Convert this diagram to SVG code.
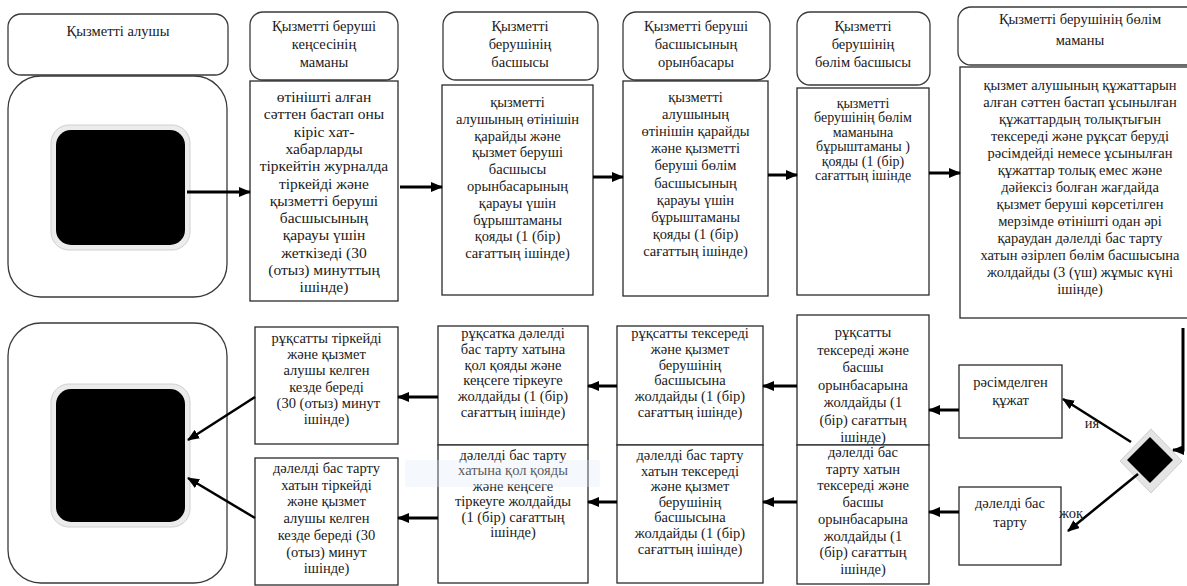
<svg xmlns="http://www.w3.org/2000/svg" width="1187" height="586" viewBox="0 0 1187 586">
  <style>
    .hdr { fill: #ffffff; stroke: #3a3a3a; stroke-width: 1.3; }
    .box { fill: #ffffff; stroke: #2a2a2a; stroke-width: 1.3; }
    .lbl { font-family: "Liberation Serif", "DejaVu Serif", "Times New Roman", serif; font-size: 14.5px; fill: #1a1a1a; text-anchor: middle; }
    .lg { font-size: 15.5px; }
    .sm { font-size: 14px; }
    .flow { fill: none; stroke: #000000; stroke-width: 3; }
    .thin { fill: none; stroke: #000000; stroke-width: 2.5; }
    .halo { fill: #ececec; stroke: #d0d0d0; stroke-width: 1; }
  </style>
  <defs>
    <marker id="arrow" markerUnits="userSpaceOnUse" markerWidth="12" markerHeight="10" refX="11" refY="5" orient="auto">
      <path d="M0,0 L12,5 L0,10 z" fill="#000000"/>
    </marker>
  </defs>

  <rect width="1187" height="586" fill="#ffffff"/>

  <!-- column headers -->
  <g id="hdr-recipient">
    <rect class="hdr" x="8" y="14" width="220" height="61" rx="13"/>
    <text class="lbl" x="118" y="36">Қызметті алушы</text>
  </g>
  <g id="hdr-office">
    <rect class="hdr" x="250" y="12" width="148" height="68" rx="13"/>
    <text class="lbl"><tspan x="324" y="31">Қызметті беруші</tspan><tspan x="324" y="49">кеңсесінің</tspan><tspan x="324" y="67">маманы</tspan></text>
  </g>
  <g id="hdr-head">
    <rect class="hdr" x="443" y="12" width="155" height="68" rx="13"/>
    <text class="lbl"><tspan x="520" y="31">Қызметті</tspan><tspan x="520" y="49">берушінің</tspan><tspan x="520" y="67">басшысы</tspan></text>
  </g>
  <g id="hdr-deputy">
    <rect class="hdr" x="623" y="12" width="147" height="68" rx="13"/>
    <text class="lbl"><tspan x="696" y="31">Қызметті беруші</tspan><tspan x="696" y="49">басшысының</tspan><tspan x="696" y="67">орынбасары</tspan></text>
  </g>
  <g id="hdr-dept-head">
    <rect class="hdr" x="797" y="12" width="133" height="73" rx="13"/>
    <text class="lbl"><tspan x="863" y="31">Қызметті</tspan><tspan x="863" y="49">берушінің</tspan><tspan x="863" y="67">бөлім басшысы</tspan></text>
  </g>
  <g id="hdr-dept-spec">
    <rect class="hdr" x="958" y="7" width="250" height="58" rx="13"/>
    <text class="lbl"><tspan x="1080" y="24">Қызметті берушінің бөлім</tspan><tspan x="1080" y="45">маманы</tspan></text>
  </g>

  <!-- start and end terminals -->
  <g id="start">
    <rect class="hdr" x="8" y="76" width="219" height="221" rx="33"/>
    <rect class="halo" x="51" y="125" width="139" height="125" rx="18"/>
    <rect x="56" y="130" width="129" height="115" rx="15" fill="#000000"/>
  </g>
  <g id="end">
    <rect class="hdr" x="8" y="323" width="219" height="260" rx="33"/>
    <rect class="halo" x="51" y="384" width="139" height="143" rx="18"/>
    <rect x="56" y="389" width="129" height="133" rx="15" fill="#000000"/>
  </g>

  <!-- top row steps -->
  <g id="step-office">
    <rect class="box" x="250" y="81" width="148" height="220"/>
    <text class="lbl lg"><tspan x="324" y="102">өтінішті алған</tspan><tspan x="324" y="119.3">сәттен бастап оны</tspan><tspan x="324" y="136.6">кіріс хат-</tspan><tspan x="324" y="153.9">хабарларды</tspan><tspan x="324" y="171.2">тіркейтін журналда</tspan><tspan x="324" y="188.5">тіркейді және</tspan><tspan x="324" y="205.8">қызметті беруші</tspan><tspan x="324" y="223.1">басшысының</tspan><tspan x="324" y="240.4">қарауы үшін</tspan><tspan x="324" y="257.7">жеткізеді (30</tspan><tspan x="324" y="275">(отыз) минуттың</tspan><tspan x="324" y="292.3">ішінде)</tspan></text>
  </g>
  <g id="step-head">
    <rect class="box" x="442" y="85" width="151" height="210"/>
    <text class="lbl"><tspan x="517.5" y="107">қызметті</tspan><tspan x="517.5" y="123.8">алушының өтінішін</tspan><tspan x="517.5" y="140.6">қарайды және</tspan><tspan x="517.5" y="157.4">қызмет беруші</tspan><tspan x="517.5" y="174.2">басшысы</tspan><tspan x="517.5" y="191">орынбасарының</tspan><tspan x="517.5" y="207.8">қарауы үшін</tspan><tspan x="517.5" y="224.6">бұрыштаманы</tspan><tspan x="517.5" y="241.4">қояды (1 (бір)</tspan><tspan x="517.5" y="258.2">сағаттың ішінде)</tspan></text>
  </g>
  <g id="step-deputy">
    <rect class="box" x="623" y="81" width="145" height="215"/>
    <text class="lbl"><tspan x="695.5" y="102">қызметті</tspan><tspan x="695.5" y="119.1">алушының</tspan><tspan x="695.5" y="136.2">өтінішін қарайды</tspan><tspan x="695.5" y="153.3">және қызметті</tspan><tspan x="695.5" y="170.4">беруші бөлім</tspan><tspan x="695.5" y="187.5">басшысының</tspan><tspan x="695.5" y="204.6">қарауы үшін</tspan><tspan x="695.5" y="221.7">бұрыштаманы</tspan><tspan x="695.5" y="238.8">қояды (1 (бір)</tspan><tspan x="695.5" y="255.9">сағаттың ішінде)</tspan></text>
  </g>
  <g id="step-dept-head">
    <rect class="box" x="797" y="88" width="132" height="207"/>
    <text class="lbl sm"><tspan x="863" y="108">қызметті</tspan><tspan x="863" y="122.4">берушінің бөлім</tspan><tspan x="863" y="136.8">маманына</tspan><tspan x="863" y="151.2">бұрыштаманы )</tspan><tspan x="863" y="165.6">қояды (1 (бір)</tspan><tspan x="863" y="180">сағаттың ішінде</tspan></text>
  </g>
  <g id="step-dept-spec">
    <rect class="box" x="960" y="67" width="240" height="251"/>
    <text class="lbl"><tspan x="1080" y="90">қызмет алушының құжаттарын</tspan><tspan x="1080" y="107">алған сәттен бастап ұсынылған</tspan><tspan x="1080" y="124">құжаттардың толықтығын</tspan><tspan x="1080" y="141">тексереді және рұқсат беруді</tspan><tspan x="1080" y="158">рәсімдейді немесе ұсынылған</tspan><tspan x="1080" y="175">құжаттар толық емес және</tspan><tspan x="1080" y="192">дәйексіз болған  жағдайда</tspan><tspan x="1080" y="209">қызмет беруші  көрсетілген</tspan><tspan x="1080" y="226">мерзімде  өтінішті одан әрі</tspan><tspan x="1080" y="243">қараудан дәлелді  бас  тарту</tspan><tspan x="1080" y="260">хатын әзірлеп бөлім  басшысына</tspan><tspan x="1080" y="277">жолдайды (3 (үш) жұмыс күні</tspan><tspan x="1080" y="294">ішінде)</tspan></text>
  </g>

  <!-- decision -->
  <g id="decision">
    <polygon points="1151,429 1182,461 1151,493 1120,461" fill="#e4e4e4" stroke="#cfcfcf" stroke-width="1"/>
    <polygon points="1150,437 1173,460 1150,483 1127,460" fill="#000000"/>
  </g>
  <g id="result-issued">
    <rect class="box" x="959" y="365" width="103" height="73"/>
    <text class="lbl"><tspan x="1010.5" y="387">рәсімделген</tspan><tspan x="1010.5" y="405">құжат</tspan></text>
  </g>
  <g id="result-refused">
    <rect class="box" x="959" y="487" width="102" height="78"/>
    <text class="lbl"><tspan x="1010" y="508">дәлелді бас</tspan><tspan x="1010" y="527">тарту</tspan></text>
  </g>

  <!-- bottom row steps: permit branch -->
  <g id="permit-deputy">
    <rect class="box" x="797" y="315" width="132" height="130"/>
    <text class="lbl"><tspan x="863" y="337">рұқсатты</tspan><tspan x="863" y="354.5">тексереді және</tspan><tspan x="863" y="372">басшы</tspan><tspan x="863" y="389.5">орынбасарына</tspan><tspan x="863" y="407">жолдайды (1</tspan><tspan x="863" y="424.5">(бір) сағаттың</tspan><tspan x="863" y="442">ішінде)</tspan></text>
  </g>
  <g id="permit-head">
    <rect class="box" x="617" y="326" width="146" height="119"/>
    <text class="lbl"><tspan x="690" y="338">рұқсатты тексереді</tspan><tspan x="690" y="353.8">және қызмет</tspan><tspan x="690" y="369.6">берушінің</tspan><tspan x="690" y="385.4">басшысына</tspan><tspan x="690" y="401.2">жолдайды (1 (бір)</tspan><tspan x="690" y="417">сағаттың ішінде)</tspan></text>
  </g>
  <g id="permit-sign">
    <rect class="box" x="438" y="326" width="150" height="119"/>
    <text class="lbl"><tspan x="513" y="338">рұқсатка дәлелді</tspan><tspan x="513" y="353.8">бас тарту хатына</tspan><tspan x="513" y="369.6">қол  қояды және</tspan><tspan x="513" y="385.4">кеңсеге тіркеуге</tspan><tspan x="513" y="401.2">жолдайды (1 (бір)</tspan><tspan x="513" y="417">сағаттың ішінде)</tspan></text>
  </g>
  <g id="permit-register">
    <rect class="box" x="255" y="327" width="143" height="117"/>
    <text class="lbl"><tspan x="326.5" y="343">рұқсатты тіркейді</tspan><tspan x="326.5" y="359.2">және қызмет</tspan><tspan x="326.5" y="375.4">алушы  келген</tspan><tspan x="326.5" y="391.6">кезде береді</tspan><tspan x="326.5" y="407.8"> (30 (отыз) минут</tspan><tspan x="326.5" y="424">ішінде)</tspan></text>
  </g>

  <!-- bottom row steps: refusal branch -->
  <g id="refusal-deputy">
    <rect class="box" x="797" y="445" width="132" height="139"/>
    <text class="lbl"><tspan x="863" y="457">дәлелді бас</tspan><tspan x="863" y="473.7">тарту хатын</tspan><tspan x="863" y="490.4">тексереді және</tspan><tspan x="863" y="507.1">басшы</tspan><tspan x="863" y="523.8">орынбасарына</tspan><tspan x="863" y="540.5">жолдайды (1</tspan><tspan x="863" y="557.2">(бір) сағаттың</tspan><tspan x="863" y="573.9">ішінде)</tspan></text>
  </g>
  <g id="refusal-head">
    <rect class="box" x="617" y="445" width="146" height="138"/>
    <text class="lbl"><tspan x="690" y="460">дәлелді бас тарту</tspan><tspan x="690" y="475.6">хатын тексереді</tspan><tspan x="690" y="491.2">және қызмет</tspan><tspan x="690" y="506.8">берушінің</tspan><tspan x="690" y="522.4">басшысына</tspan><tspan x="690" y="538">жолдайды (1 (бір)</tspan><tspan x="690" y="553.6">сағаттың ішінде)</tspan></text>
  </g>
  <g id="refusal-sign">
    <rect class="box" x="438" y="445" width="150" height="138"/>
    <text class="lbl"><tspan x="513" y="460">дәлелді бас тарту</tspan><tspan x="513" y="475.4">хатына қол қояды</tspan><tspan x="513" y="490.8">және кеңсеге</tspan><tspan x="513" y="506.2">тіркеуге жолдайды</tspan><tspan x="513" y="521.6">(1 (бір)  сағаттың</tspan><tspan x="513" y="537">ішінде)</tspan></text>
  </g>
  <g id="refusal-register">
    <rect class="box" x="255" y="458" width="143" height="127"/>
    <text class="lbl"><tspan x="326.5" y="473">дәлелді бас тарту</tspan><tspan x="326.5" y="489.7">хатын тіркейді</tspan><tspan x="326.5" y="506.4">және қызмет</tspan><tspan x="326.5" y="523.1">алушы  келген</tspan><tspan x="326.5" y="539.8">кезде береді (30</tspan><tspan x="326.5" y="556.5">(отыз) минут</tspan><tspan x="326.5" y="573.2">ішінде)</tspan></text>
  </g>

  <!-- faint background band -->
  <rect x="405" y="460" width="195" height="27" rx="3" fill="#dfe8f5" opacity="0.3"/>

  <!-- connectors -->
  <g id="connectors">
    <line class="flow" x1="187" y1="192" x2="250" y2="192" marker-end="url(#arrow)"/>
    <line class="flow" x1="400" y1="187" x2="442" y2="187" marker-end="url(#arrow)"/>
    <line class="flow" x1="593" y1="177" x2="623" y2="177" marker-end="url(#arrow)"/>
    <line class="flow" x1="768" y1="175" x2="797" y2="175" marker-end="url(#arrow)"/>
    <line class="flow" x1="929" y1="173" x2="960" y2="173" marker-end="url(#arrow)"/>
    <polyline class="flow" points="1183,328 1183,450 1173,450" marker-end="url(#arrow)"/>
    <line class="thin" x1="1131" y1="442" x2="1063" y2="399" marker-end="url(#arrow)"/>
    <line class="thin" x1="1138" y1="474" x2="1068" y2="531" marker-end="url(#arrow)"/>
    <line class="flow" x1="959" y1="410" x2="929" y2="410" marker-end="url(#arrow)"/>
    <line class="flow" x1="959" y1="512" x2="929" y2="512" marker-end="url(#arrow)"/>
    <line class="flow" x1="797" y1="386" x2="763" y2="386" marker-end="url(#arrow)"/>
    <line class="flow" x1="797" y1="502" x2="763" y2="502" marker-end="url(#arrow)"/>
    <line class="flow" x1="617" y1="386" x2="588" y2="386" marker-end="url(#arrow)"/>
    <line class="flow" x1="617" y1="502" x2="588" y2="502" marker-end="url(#arrow)"/>
    <line class="flow" x1="438" y1="397" x2="398" y2="397" marker-end="url(#arrow)"/>
    <line class="flow" x1="438" y1="518" x2="398" y2="518" marker-end="url(#arrow)"/>
    <line class="thin" x1="255" y1="397" x2="188" y2="440" marker-end="url(#arrow)"/>
    <line class="thin" x1="255" y1="518" x2="188" y2="478" marker-end="url(#arrow)"/>
    <text class="lbl" x="1092" y="428">ия</text>
    <text class="lbl" x="1071" y="518">жоқ</text>
  </g>
</svg>
